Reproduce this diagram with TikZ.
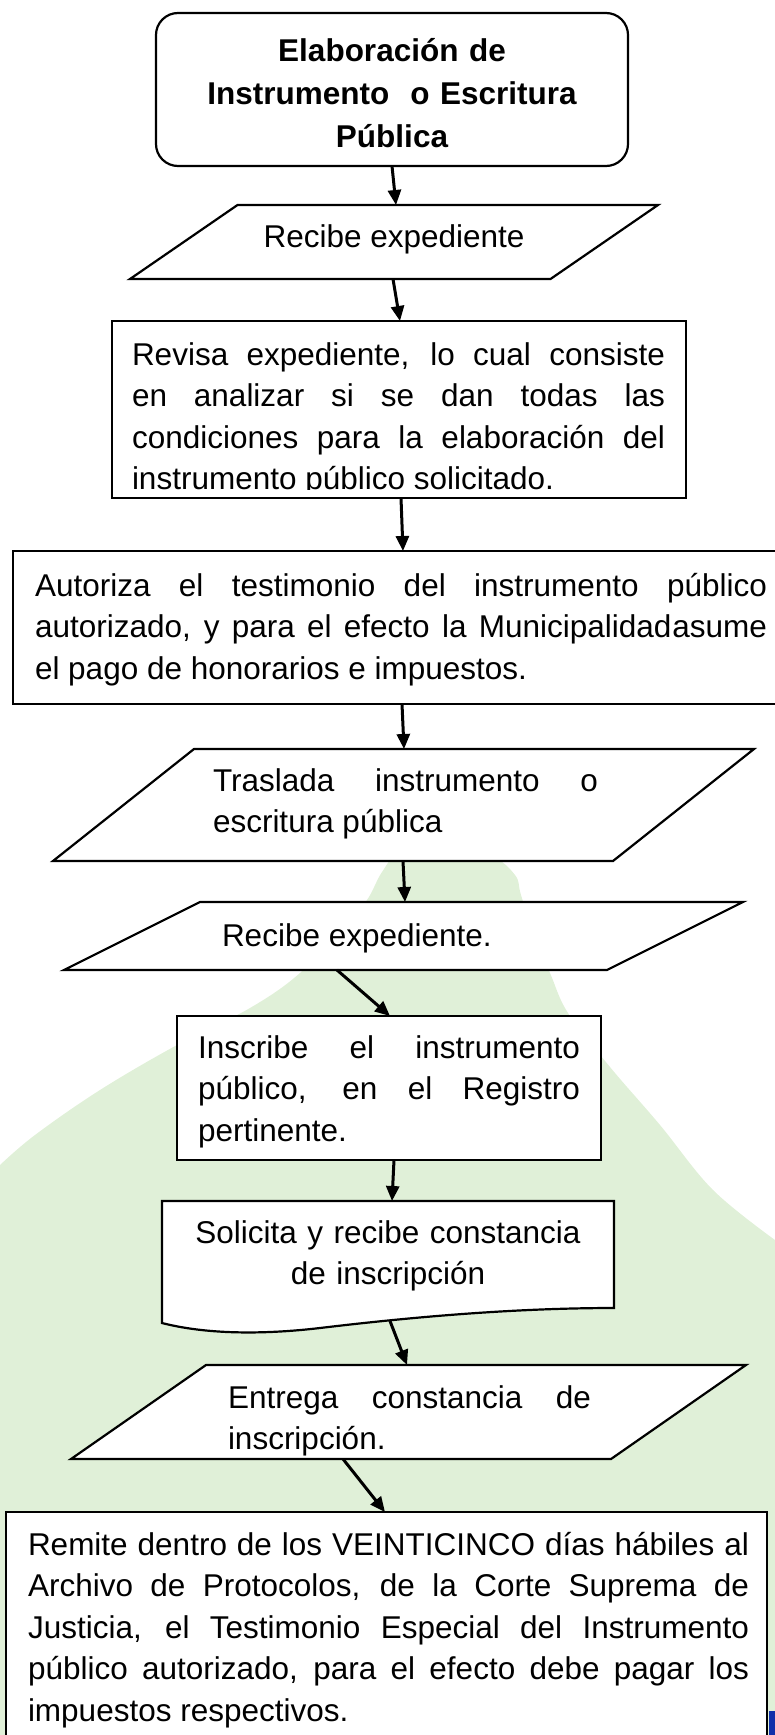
\documentclass[tikz,border=0pt]{standalone}
\usepackage{fontspec}
\setmainfont{Liberation Sans}
\usetikzlibrary{arrows.meta}
\definecolor{bggreen}{RGB}{224,240,216}
\definecolor{barblue}{RGB}{16,48,170}
\tolerance=10000 \hbadness=10000 \hyphenpenalty=10000 \exhyphenpenalty=10000
\newcommand\bodyfont{\fontsize{31.5}{41.5}\selectfont\hyphenpenalty=10000\tolerance=10000}
\newcommand\titlefont{\bfseries\fontsize{31.5}{43}\selectfont}
\newcommand\drawpara[2]{\filldraw[shapeline] (#1.south west) -- ([xshift=-#2pt]#1.south east) -- (#1.north east) -- ([xshift=#2pt]#1.north west) -- cycle;}
\begin{document}
\begin{tikzpicture}[x=1pt,y=-1pt,
  frame/.style={shape=rectangle, inner sep=0pt, outer sep=0pt},
  shapeline/.style={draw=black, line width=2.2pt, fill=white},
  txt/.style={inner sep=0pt, outer sep=0pt, font=\bodyfont, align=justify, anchor=base west},
  plain/.style={inner sep=0pt, outer sep=0pt, font=\bodyfont},
  flow/.style={line width=3pt, -{Triangle[length=15pt,width=13pt]}},
]
\useasboundingbox (0,0) rectangle (775,1735);
% background blob
\fill[bggreen] plot[smooth, tension=0.6] coordinates {(0,1165) (35,1135) (100,1090) (177,1045) (250,1008) (300,973) (345,925) (367,900) (382,872) (400,852) (440,843) (490,855) (515,875) (521,895) (535,940) (550,973) (568,1013) (610,1067) (660,1125) (713,1190) (775,1240)} -- (790,1240) -- (790,1745) -- (-10,1745) -- (-10,1165) -- cycle;
\fill[barblue] (769,1711) rectangle (780,1740);

% shapes
\node[frame, shapeline, rounded corners=22pt, minimum width=472pt, minimum height=153pt] (n1) at (392,89.5) {};
\node[frame, minimum width=528pt, minimum height=74pt] (n2) at (394,242) {};
\drawpara{n2}{107.5}
\node[frame, shapeline, minimum width=574pt, minimum height=177pt] (n3) at (399,409.5) {};
\node[frame, shapeline, minimum width=782pt, minimum height=153pt] (n4) at (404,627.5) {};
\node[frame, minimum width=701pt, minimum height=112pt] (n5) at (403.5,805) {};
\drawpara{n5}{141}
\node[frame, minimum width=679pt, minimum height=68pt] (n6) at (403.5,936) {};
\drawpara{n6}{136}
\node[frame, shapeline, minimum width=424pt, minimum height=144pt] (n7) at (389,1088) {};
\node[frame, minimum width=452pt, minimum height=130pt] (n8) at (388,1266) {};
\filldraw[shapeline] (n8.north west) -- (n8.north east) -- ([yshift=23pt]n8.south east)
  .. controls (520,1308) and (420,1316) .. (320,1328)
  .. controls (260,1335) and (205,1334) .. ([yshift=8pt]n8.south west) -- cycle;
\coordinate (w8) at (390,1321);
\node[frame, minimum width=675pt, minimum height=94pt] (n9) at (408.5,1412) {};
\drawpara{n9}{135}
\node[frame, shapeline, minimum width=761pt, minimum height=233pt] (n10) at (386.5,1628.5) {};

% texts
\node[inner sep=0pt, outer sep=0pt, font=\titlefont, align=center, text width=460pt, anchor=base] (t1) at (392,61) {Elaboración de\\Instrumento\ \ o Escritura\\Pública};
\node[plain, anchor=base] (t2) at (394,247) {Recibe expediente};
\begin{scope}
\clip (n3.north west) rectangle ([yshift=9pt]n3.south east);
\node[txt, text width=533pt] (t3) at (132,365) {Revisa expediente, lo cual consiste\linebreak en analizar si se dan todas las\linebreak condiciones para la elaboración del\linebreak instrumento público solicitado.};
\end{scope}
\node[txt, text width=732pt] (t4) at (35,596) {Autoriza el testimonio del instrumento público\linebreak autorizado, y para el efecto la Municipalidad\hspace{1pt}asume\linebreak el pago de honorarios e impuestos.};
\node[txt, text width=385pt] (t5) at (213,791) {Traslada instrumento o\linebreak escritura pública};
\node[plain, anchor=base west] (t6) at (222,946) {Recibe expediente.};
\node[txt, text width=382pt] (t7) at (198,1058) {Inscribe el instrumento\linebreak público, en el Registro\linebreak pertinente.};
\node[plain, align=center, text width=440pt, anchor=base] (t8) at (388,1243) {Solicita y recibe constancia\\de inscripción};
\node[txt, text width=363pt] (t9) at (228,1408) {Entrega constancia de\linebreak inscripción.};
\node[txt, text width=721pt] (t10) at (28,1555) {Remite dentro de los VEINTICINCO días hábiles al\linebreak Archivo de Protocolos, de la Corte Suprema de\linebreak Justicia, el Testimonio Especial del Instrumento\linebreak público autorizado, para el efecto debe pagar los\linebreak impuestos respectivos.};

% connectors
\draw[flow] (n1.south) -- ([xshift=2pt]n2.north);
\draw[flow] ([xshift=-1pt]n2.south) -- ([xshift=1pt]n3.north);
\draw[flow] ([xshift=2pt]n3.south) -- ([xshift=-1pt]n4.north);
\draw[flow] ([xshift=-2pt]n4.south) -- ([xshift=0.5pt]n5.north);
\draw[flow] ([xshift=-0.5pt]n5.south) -- ([xshift=1.5pt]n6.north);
\draw[flow] ([xshift=-66.5pt]n6.south) -- ([xshift=1pt]n7.north);
\draw[flow] ([xshift=5pt]n7.south) -- ([xshift=4pt]n8.north);
\draw[flow] (w8) -- ([xshift=-1.5pt]n9.north);
\draw[flow] ([xshift=-65.5pt]n9.south) -- ([xshift=-1.5pt]n10.north);
\end{tikzpicture}
\end{document}
